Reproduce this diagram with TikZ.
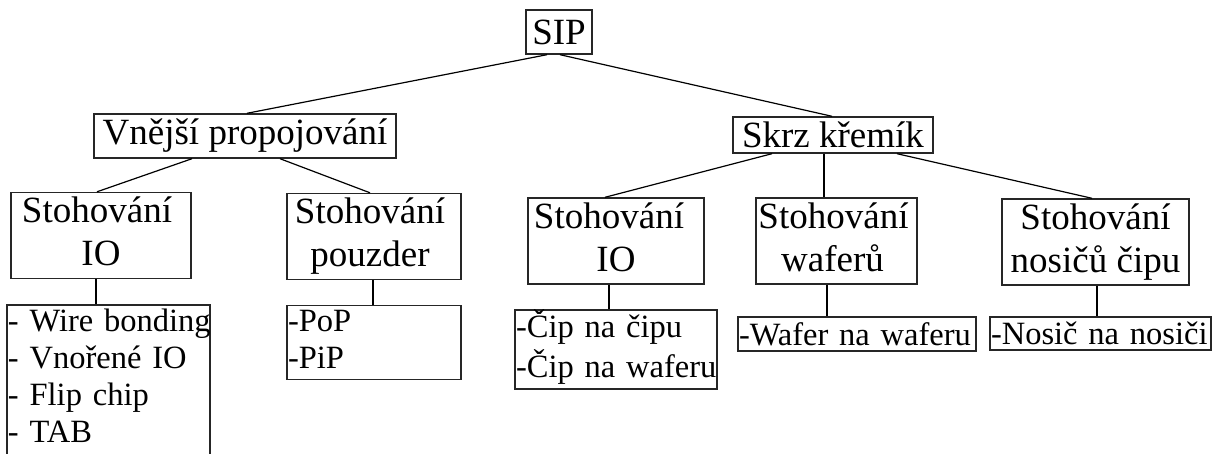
\documentclass[tikz,border=0pt]{standalone}
\usepackage{fontspec}
\setmainfont{Liberation Serif}
\newcommand{\itemline}[1]{\strut\mbox{#1}}
\begin{document}
\begin{tikzpicture}[x=1pt,y=-1pt,
  box/.style={draw=black!85, line width=1.4pt, inner sep=0pt, align=center,
    font=\fontsize{37}{43}\selectfont},
  listbox/.style={draw=black!85, line width=1.4pt, inner ysep=0pt, inner xsep=1pt,
    align=left, font=\fontsize{32.5}{37}\selectfont},
  link/.style={line width=1.2pt}]
\useasboundingbox (0,0) rectangle (1215,454);

% top levels
\node[box, minimum width=66pt, minimum height=44pt] (sip) at (559,32) {SIP};
\node[box, minimum width=302pt, minimum height=44pt] (vp) at (245,136) {Vnější propojování};
\node[box, minimum width=200pt, minimum height=36pt] (sk) at (833,135) {Skrz křemík};

% stacking kinds
\node[box, minimum width=180pt, minimum height=83pt] (io1) at (101,235.5)
  {\strut Stohování\hspace*{8pt}\\\strut IO};
\node[box, minimum width=174pt, minimum height=83pt] (pz) at (374,236.5)
  {\strut Stohování\hspace*{8pt}\\\strut pouzder\hspace*{8pt}};
\node[box, minimum width=176pt, minimum height=78pt] (io2) at (616,241)
  {\strut Stohování\hspace*{14pt}\\\strut IO};
\node[box, minimum width=161pt, minimum height=72pt] (wf) at (836.5,241)
  {\strut Stohování\hspace*{6pt}\\\strut waferů\hspace*{8pt}};
\node[box, minimum width=187pt, minimum height=84pt] (ns) at (1095.5,242)
  {\strut Stohování\\\strut nosičů čipu};

% technique lists
\node[listbox, text width=201pt, minimum height=177pt] (l1) at (108.5,397.6)
  {\itemline{- Wire bonding}\\\itemline{- Vnořené IO}\\\itemline{- Flip chip}\\\itemline{- TAB}\\\strut};
\node[listbox, text width=172pt, minimum height=67pt] (l2) at (374,342.5)
  {\itemline{-PoP}\\\itemline{-PiP}};
\node[listbox, text width=200pt, minimum height=77pt] (l3) at (616,349.5)
  {\itemline{-Čip na čipu}\\\itemline{-Čip na waferu}};
\node[listbox, text width=236pt, minimum height=34pt] (l4) at (857,334)
  {\mbox{-Wafer na waferu}};
\node[listbox, text width=219pt, minimum height=33pt] (l5) at (1100.5,333.5)
  {\mbox{-Nosič na nosiči}};

% connectors
\draw[link] ([xshift=-12pt]sip.south) -- ([xshift=2pt]vp.north);
\draw[link] ([xshift=1pt]sip.south) -- ([xshift=-1pt]sk.north);
\draw[link] ([xshift=-53pt]vp.south) -- ([xshift=-4pt]io1.north);
\draw[link] ([xshift=35pt]vp.south) -- ([xshift=-4pt]pz.north);
\draw[link] ([xshift=-61pt]sk.south) -- ([xshift=-11pt]io2.north);
\draw[link] ([xshift=-9pt]sk.south) -- ([xshift=-12.5pt]wf.north);
\draw[link] ([xshift=64pt]sk.south) -- ([xshift=-3.5pt]ns.north);
\draw[link] ([xshift=-5pt]io1.south) -- ([xshift=-12.5pt]l1.north);
\draw[link] ([xshift=-1pt]pz.south) -- ([xshift=-1pt]l2.north);
\draw[link] ([xshift=-7pt]io2.south) -- ([xshift=-7pt]l3.north);
\draw[link] ([xshift=-9.5pt]wf.south) -- ([xshift=-30pt]l4.north);
\draw[link] ([xshift=1.5pt]ns.south) -- ([xshift=-3.5pt]l5.north);
\end{tikzpicture}
\end{document}
